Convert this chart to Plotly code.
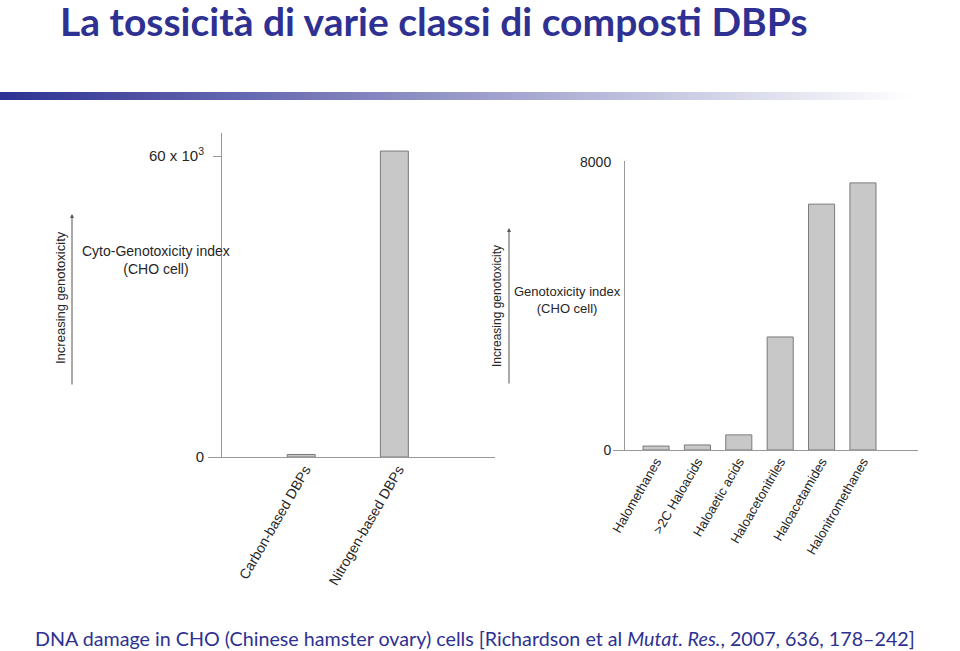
import plotly.graph_objects as go

W, H = 960, 651

title_text = "La tossicità di varie classi di composti DBPs"
footer_text = ("DNA damage in CHO (Chinese hamster ovary) cells [Richardson et al "
               "<i>Mutat. Res.</i>, 2007, 636, 178–242]")

left_categories = ["Carbon-based DBPs", "Nitrogen-based DBPs"]
left_values = [500, 61000]
left_tickvals = [0, 60000]
left_ticktext = ["0", "60 x 10<sup>3</sup>"]

right_categories = ["Halomethanes", ">2C Haloacids", "Haloaetic acids",
                    "Haloacetonitriles", "Haloacetamides", "Halonitromethanes"]
right_values = [110, 140, 420, 3140, 6830, 7420]
right_tickvals = [0, 8000]
right_ticktext = ["0", "8000"]

def px(x):
    return x / W

def py(y):
    return (H - y) / H

navy = "#2E3192"
bar_fill = "#C8C8C8"
bar_line = "#7A7A7A"
axis_grey = "#999999"
text_col = "#262626"

fig = go.Figure()
fig.add_trace(go.Bar(x=left_categories, y=left_values, width=0.3,
                     marker=dict(color=bar_fill, line=dict(color=bar_line, width=1)),
                     xaxis="x", yaxis="y", showlegend=False))
fig.add_trace(go.Bar(x=right_categories, y=right_values, width=0.63,
                     marker=dict(color=bar_fill, line=dict(color=bar_line, width=1)),
                     xaxis="x2", yaxis="y2", showlegend=False))

axis_font = dict(family="Liberation Sans, Arial", color=text_col)

fig.update_layout(
    width=W, height=H, margin=dict(l=0, r=0, t=0, b=0, pad=0, autoexpand=False),
    paper_bgcolor="white", plot_bgcolor="rgba(0,0,0,0)",
    xaxis=dict(domain=[px(208), px(495)], range=[-1.0, 2.08], anchor="y",
               showline=True, linecolor=axis_grey, linewidth=1, ticks="",
               showgrid=False, zeroline=False, tickangle=-60, automargin=False,
               ticklabelstandoff=-2, ticklabelshift=4,
               tickfont=dict(size=14, **axis_font)),
    yaxis=dict(domain=[py(457), py(133)], range=[0, 64600], anchor="free",
               position=px(221), showline=True, linecolor=axis_grey, linewidth=1,
               showgrid=False, zeroline=False, tickmode="array", automargin=False,
               tickvals=left_tickvals, ticktext=left_ticktext, ticks="outside",
               ticklen=8, tickcolor=axis_grey, ticklabelstandoff=6,
               tickfont=dict(size=15, **axis_font)),
    xaxis2=dict(domain=[px(613), px(918)], range=[-1.04, 6.33], anchor="y2",
                showline=True, linecolor=axis_grey, linewidth=1, ticks="",
                showgrid=False, zeroline=False, tickangle=-60, automargin=False,
                ticklabelstandoff=-2,
                tickfont=dict(size=13, **axis_font)),
    yaxis2=dict(domain=[py(450), py(161)], range=[0, 8028], anchor="free",
                position=px(624), showline=True, linecolor=axis_grey, linewidth=1,
                showgrid=False, zeroline=False, tickmode="array", automargin=False,
                tickvals=right_tickvals, ticktext=right_ticktext, ticks="",
                ticklabelstandoff=10, tickfont=dict(size=14, **axis_font)),
)

# gradient rule under the title
steps = 120
c0 = (46, 49, 146)
for i in range(steps):
    t = i / (steps - 1)
    c = tuple(int(round(c0[k] + (255 - c0[k]) * min(1, t * 1.05))) for k in range(3))
    fig.add_shape(type="rect", xref="paper", yref="paper",
                  x0=i / steps, x1=(i + 1) / steps + 0.001,
                  y0=py(100), y1=py(92), line=dict(width=0),
                  fillcolor="rgb(%d,%d,%d)" % c, layer="below")

annotations = [
    dict(text=title_text, x=px(58), y=py(21), xanchor="left", yanchor="middle",
         font=dict(family="Lato", size=39, color=navy, weight="bold")),
    dict(text=footer_text, x=px(33), y=py(638), xanchor="left", yanchor="middle",
         font=dict(family="Lato", size=19.7, color=navy)),
    dict(text="Cyto-Genotoxicity index<br>(CHO cell)", x=px(156), y=py(260),
         xanchor="center", yanchor="middle",
         font=dict(size=14, **axis_font)),
    dict(text="Genotoxicity index<br>(CHO cell)", x=px(567), y=py(300),
         xanchor="center", yanchor="middle",
         font=dict(size=13, **axis_font)),
    dict(text="Increasing genotoxicity", x=px(60), y=py(298), textangle=-90,
         xanchor="center", yanchor="middle", font=dict(size=13, **axis_font)),
    dict(text="Increasing genotoxicity", x=px(497), y=py(306), textangle=-90,
         xanchor="center", yanchor="middle", font=dict(size=12, **axis_font)),
]
for a in annotations:
    a.update(xref="paper", yref="paper", showarrow=False)

arrows = [
    dict(x=px(72), y=py(214), ax=0, ay=172),
    dict(x=px(509), y=py(228), ax=0, ay=157),
]
for a in arrows:
    a.update(xref="paper", yref="paper", axref="pixel", ayref="pixel",
             showarrow=True, arrowhead=2, arrowsize=0.8, arrowwidth=1,
             arrowcolor="#555555", text="")
fig.update_layout(annotations=annotations + arrows)

fig.write_html("out.html")
